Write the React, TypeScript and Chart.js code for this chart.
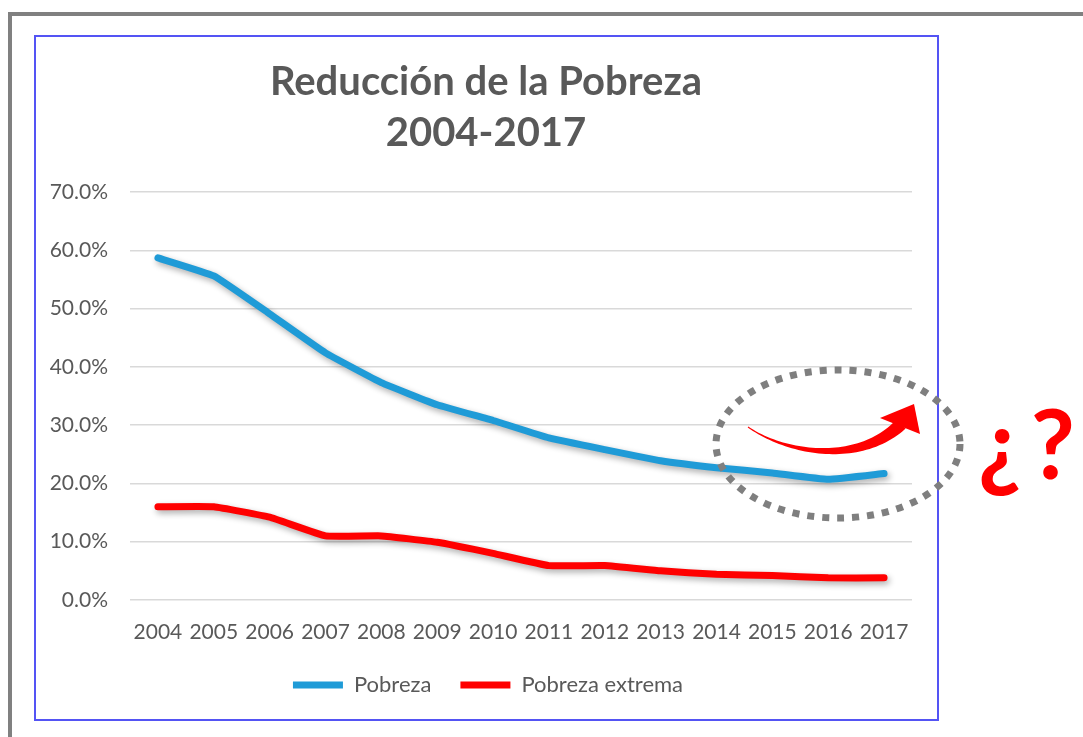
import React, { useEffect, useRef } from 'react';
import { Chart, registerables } from 'chart.js';
Chart.register(...registerables);

const W = 1083;
const H = 737;

const years = ['2004', '2005', '2006', '2007', '2008', '2009', '2010', '2011', '2012', '2013', '2014', '2015', '2016', '2017'];
const pobreza = [58.7, 55.6, 49.1, 42.4, 37.3, 33.5, 30.8, 27.8, 25.8, 23.9, 22.7, 21.8, 20.7, 21.7];
const pobrezaExtrema = [16.0, 16.0, 14.2, 11.0, 11.0, 9.9, 8.0, 5.9, 5.9, 5.0, 4.4, 4.2, 3.8, 3.8];
const titleLines = ['Reducción de la Pobreza', '2004-2017'];
const seriesNames = ['Pobreza', 'Pobreza extrema'];
const yMin = 0;
const yMax = 70;
const yStep = 10;
const question = '¿?';

const FONT = 'Lato, "Open Sans", sans-serif';
const TEXT = '#595959';

function bez(t: number, p: number[][]) {
  const u = 1 - t;
  const x = u * u * u * p[0][0] + 3 * u * u * t * p[1][0] + 3 * u * t * t * p[2][0] + t * t * t * p[3][0];
  const y = u * u * u * p[0][1] + 3 * u * u * t * p[1][1] + 3 * u * t * t * p[2][1] + t * t * t * p[3][1];
  const dx = 3 * u * u * (p[1][0] - p[0][0]) + 6 * u * t * (p[2][0] - p[1][0]) + 3 * t * t * (p[3][0] - p[2][0]);
  const dy = 3 * u * u * (p[1][1] - p[0][1]) + 6 * u * t * (p[2][1] - p[1][1]) + 3 * t * t * (p[3][1] - p[2][1]);
  return { x, y, dx, dy };
}

export default function App() {
  const ref = useRef<HTMLCanvasElement>(null);
  useEffect(() => {
    if (!ref.current) return;
    const decor = {
      id: 'decor',
      afterLayout(chart: any) {
        if (chart.legend) {
          chart.legend.left += 12;
          chart.legend.right += 12;
        }
      },
      beforeDraw(chart: any) {
        const ctx = chart.ctx;
        ctx.save();
        ctx.fillStyle = '#ffffff';
        ctx.fillRect(0, 0, W, H);
        ctx.strokeStyle = '#808080';
        ctx.lineWidth = 4;
        ctx.beginPath();
        ctx.moveTo(10, H + 10);
        ctx.lineTo(10, 14);
        ctx.lineTo(W + 10, 14);
        ctx.stroke();
        ctx.strokeStyle = '#5454f4';
        ctx.lineWidth = 2;
        ctx.strokeRect(35, 36, 903, 684);
        // title
        ctx.fillStyle = TEXT;
        ctx.font = 'bold 40px ' + FONT;
        ctx.textAlign = 'center';
        ctx.textBaseline = 'middle';
        ctx.fillText(titleLines[0], 486, 82);
        ctx.fillText(titleLines[1], 486, 133);
        ctx.restore();
      },
      beforeDatasetDraw(chart: any) {
        const ctx = chart.ctx;
        ctx.save();
        ctx.shadowColor = 'rgba(0,0,0,0.33)';
        ctx.shadowBlur = 6;
        ctx.shadowOffsetX = 2;
        ctx.shadowOffsetY = 3;
      },
      afterDatasetDraw(chart: any) {
        chart.ctx.restore();
      },
      afterDraw(chart: any) {
        const ctx = chart.ctx;
        ctx.save();
        // dotted ellipse
        ctx.strokeStyle = '#7f7f7f';
        ctx.lineWidth = 7;
        ctx.setLineDash([7, 8]);
        ctx.beginPath();
        ctx.ellipse(838, 444, 122, 74, 0, 0, Math.PI * 2);
        ctx.stroke();
        ctx.setLineDash([]);
        // curved arrow
        const p = [[748, 427], [790, 456], [862, 463], [901, 424]];
        const left: number[][] = [];
        const right: number[][] = [];
        const N = 50;
        for (let i = 0; i <= N; i++) {
          const t = i / N;
          const b = bez(t, p);
          const len = Math.hypot(b.dx, b.dy) || 1;
          const nx = -b.dy / len;
          const ny = b.dx / len;
          const w = (1 + 12 * Math.pow(t, 1.3)) / 2;
          left.push([b.x + nx * w, b.y + ny * w]);
          right.push([b.x - nx * w, b.y - ny * w]);
        }
        ctx.fillStyle = '#ff0000';
        ctx.beginPath();
        ctx.moveTo(left[0][0], left[0][1]);
        for (const q of left) ctx.lineTo(q[0], q[1]);
        for (let i = right.length - 1; i >= 0; i--) ctx.lineTo(right[i][0], right[i][1]);
        ctx.closePath();
        ctx.fill();
        ctx.beginPath();
        ctx.moveTo(880, 418);
        ctx.lineTo(914, 404);
        ctx.lineTo(920, 434);
        ctx.closePath();
        ctx.fill();
        // question marks
        ctx.font = 'bold 96px ' + FONT;
        (ctx as any).letterSpacing = '9px';
        ctx.textAlign = 'left';
        ctx.textBaseline = 'alphabetic';
        ctx.fillText(question, 978, 479);
        ctx.restore();
      },
    };

    const chart = new Chart(ref.current, {
      type: 'line',
      data: {
        labels: years,
        datasets: [
          {
            label: seriesNames[0],
            data: pobreza,
            borderColor: '#1f9bd7',
            backgroundColor: '#1f9bd7',
            borderWidth: 7,
            pointRadius: 0,
            pointStyle: 'line',
            borderCapStyle: 'round',
            borderJoinStyle: 'round',
            tension: 0.1,
          },
          {
            label: seriesNames[1],
            data: pobrezaExtrema,
            borderColor: '#ff0000',
            backgroundColor: '#ff0000',
            borderWidth: 7,
            pointRadius: 0,
            pointStyle: 'line',
            borderCapStyle: 'round',
            borderJoinStyle: 'round',
            tension: 0.1,
          },
        ],
      },
      options: {
        animation: false,
        responsive: false,
        maintainAspectRatio: false,
        layout: { padding: { left: 40, right: 171, top: 192, bottom: 31 } },
        plugins: {
          title: { display: false },
          legend: {
            position: 'bottom',
            labels: {
              usePointStyle: true,
              pointStyleWidth: 50,
              boxHeight: 7,
              color: TEXT,
              font: { family: FONT, size: 22 },
              padding: 29,
            },
          },
          tooltip: { enabled: false },
        },
        scales: {
          x: {
            offset: true,
            afterFit(scale: any) {
              scale.height = 45;
            },
            grid: { display: false, drawTicks: false },
            border: { display: false },
            ticks: { color: TEXT, font: { family: FONT, size: 21 }, padding: 20, maxRotation: 0, autoSkip: false },
          },
          y: {
            min: yMin,
            max: yMax,
            afterFit(scale: any) {
              scale.width = 90;
            },
            grid: { color: '#d9d9d9', lineWidth: 1.5, drawTicks: false },
            border: { display: false },
            ticks: {
              stepSize: yStep,
              color: TEXT,
              font: { family: FONT, size: 21 },
              padding: 22,
              callback: (v: any) => Number(v).toFixed(1) + '%',
            },
          },
        },
      },
      plugins: [decor],
    } as any);
    return () => chart.destroy();
  }, []);
  return (
    <div style={{ position: 'absolute', left: 0, top: 0, width: W, height: H }}>
      <canvas ref={ref} width={W} height={H} style={{ display: 'block', width: W, height: H }} />
    </div>
  );
}
